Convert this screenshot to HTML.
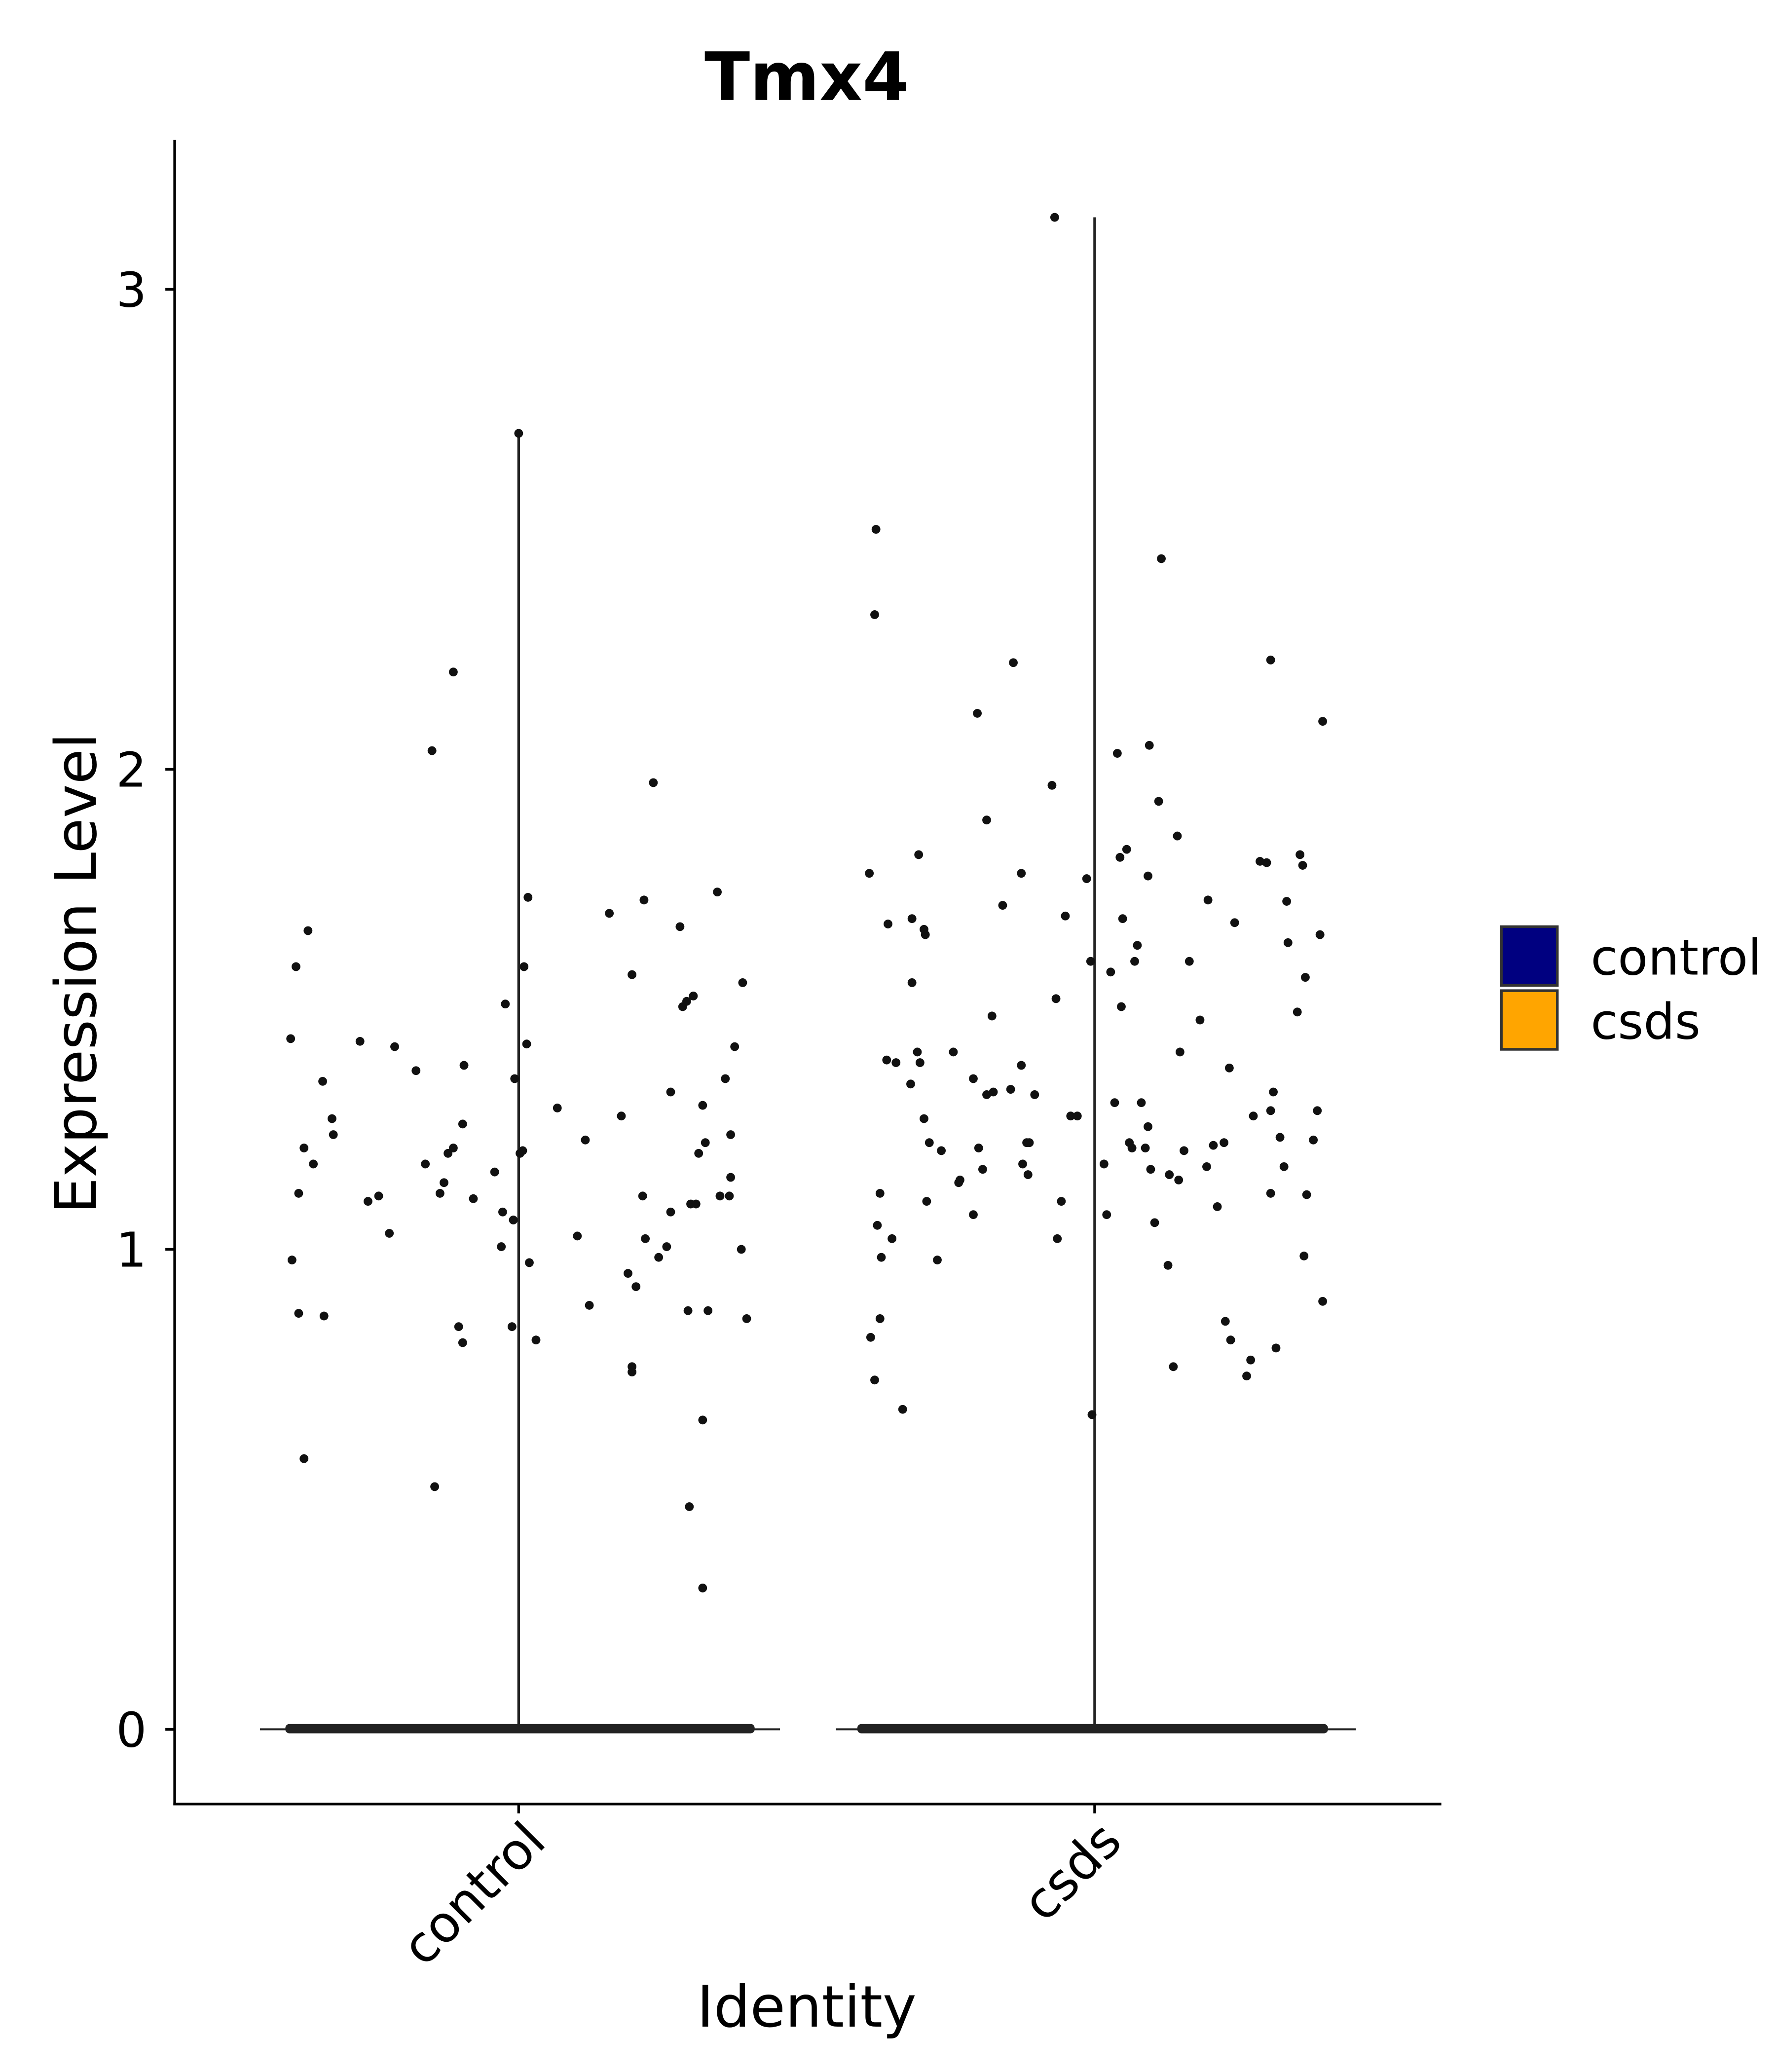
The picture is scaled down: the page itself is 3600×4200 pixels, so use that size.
<!DOCTYPE html>
<html><head><meta charset="utf-8">
<style>html,body{margin:0;padding:0;background:#fff;}svg{display:block;}</style>
</head><body>
<svg xmlns="http://www.w3.org/2000/svg" width="3600" height="4200" viewBox="0 0 1332 1554" font-family="'DejaVu Sans','Liberation Sans',sans-serif">
<rect width="1332" height="1554" fill="#fff"/>
<text x="605" y="75" text-anchor="middle" font-size="50" font-weight="bold">Tmx4</text>
<line x1="131" y1="105" x2="131" y2="1354" stroke="#000" stroke-width="2"/>
<line x1="130" y1="1353" x2="1081" y2="1353" stroke="#000" stroke-width="2"/>
<g stroke="#000" stroke-width="2">
<line x1="124" y1="217" x2="131" y2="217"/><line x1="124" y1="577" x2="131" y2="577"/>
<line x1="124" y1="937" x2="131" y2="937"/><line x1="124" y1="1297" x2="131" y2="1297"/>
<line x1="389" y1="1353" x2="389" y2="1360"/><line x1="821" y1="1353" x2="821" y2="1360"/>
</g>
<g font-size="36" text-anchor="end" fill="#000">
<text x="110" y="230">3</text><text x="110" y="590">2</text><text x="110" y="950">1</text><text x="110" y="1310">0</text>
</g>
<text transform="translate(411,1383) rotate(-45)" text-anchor="end" font-size="38">control</text>
<text transform="translate(843,1383) rotate(-45)" text-anchor="end" font-size="38">csds</text>
<text x="605" y="1520" text-anchor="middle" font-size="43">Identity</text>
<text transform="translate(72,730) rotate(-90)" text-anchor="middle" font-size="43">Expression Level</text>
<line x1="389" y1="325" x2="389" y2="1297" stroke="#222" stroke-width="2"/>
<line x1="821" y1="163" x2="821" y2="1297" stroke="#222" stroke-width="2"/>
<line x1="195" y1="1297" x2="585" y2="1297" stroke="#222" stroke-width="1.5"/>
<line x1="627" y1="1297" x2="1017" y2="1297" stroke="#222" stroke-width="1.5"/>
<rect x="214" y="1293" width="352" height="7" fill="#222" rx="3"/>
<rect x="643" y="1293" width="353" height="7" fill="#222" rx="3"/>
<g fill="#111">
<circle cx="389" cy="325" r="3.3"/><circle cx="791" cy="163" r="3.3"/>
<circle cx="218" cy="779" r="3.3"/><circle cx="222" cy="725" r="3.3"/><circle cx="231" cy="698" r="3.3"/><circle cx="224" cy="895" r="3.3"/><circle cx="228" cy="861" r="3.3"/><circle cx="235" cy="873" r="3.3"/><circle cx="219" cy="945" r="3.3"/><circle cx="224" cy="985" r="3.3"/><circle cx="243" cy="987" r="3.3"/><circle cx="242" cy="811" r="3.3"/><circle cx="249" cy="839" r="3.3"/><circle cx="250" cy="851" r="3.3"/><circle cx="228" cy="1094" r="3.3"/><circle cx="270" cy="781" r="3.3"/><circle cx="276" cy="901" r="3.3"/><circle cx="284" cy="897" r="3.3"/><circle cx="292" cy="925" r="3.3"/><circle cx="296" cy="785" r="3.3"/><circle cx="312" cy="803" r="3.3"/><circle cx="319" cy="873" r="3.3"/><circle cx="324" cy="563" r="3.3"/><circle cx="340" cy="504" r="3.3"/><circle cx="326" cy="1115" r="3.3"/><circle cx="330" cy="895" r="3.3"/><circle cx="333" cy="887" r="3.3"/><circle cx="336" cy="865" r="3.3"/><circle cx="340" cy="861" r="3.3"/><circle cx="347" cy="843" r="3.3"/><circle cx="348" cy="799" r="3.3"/><circle cx="344" cy="995" r="3.3"/><circle cx="347" cy="1007" r="3.3"/><circle cx="355" cy="899" r="3.3"/><circle cx="371" cy="879" r="3.3"/><circle cx="377" cy="909" r="3.3"/><circle cx="379" cy="753" r="3.3"/><circle cx="376" cy="935" r="3.3"/><circle cx="385" cy="915" r="3.3"/><circle cx="384" cy="995" r="3.3"/><circle cx="386" cy="809" r="3.3"/><circle cx="390" cy="865" r="3.3"/><circle cx="392" cy="863" r="3.3"/><circle cx="393" cy="725" r="3.3"/><circle cx="396" cy="673" r="3.3"/><circle cx="395" cy="783" r="3.3"/><circle cx="397" cy="947" r="3.3"/><circle cx="402" cy="1005" r="3.3"/><circle cx="418" cy="831" r="3.3"/><circle cx="433" cy="927" r="3.3"/><circle cx="439" cy="855" r="3.3"/><circle cx="442" cy="979" r="3.3"/><circle cx="457" cy="685" r="3.3"/><circle cx="466" cy="837" r="3.3"/><circle cx="471" cy="955" r="3.3"/><circle cx="474" cy="731" r="3.3"/><circle cx="474" cy="1025" r="3.3"/><circle cx="474" cy="1029" r="3.3"/><circle cx="477" cy="965" r="3.3"/><circle cx="483" cy="675" r="3.3"/><circle cx="482" cy="897" r="3.3"/><circle cx="484" cy="929" r="3.3"/><circle cx="490" cy="587" r="3.3"/><circle cx="494" cy="943" r="3.3"/><circle cx="500" cy="935" r="3.3"/><circle cx="503" cy="819" r="3.3"/><circle cx="503" cy="909" r="3.3"/><circle cx="510" cy="695" r="3.3"/><circle cx="512" cy="755" r="3.3"/><circle cx="515" cy="751" r="3.3"/><circle cx="520" cy="747" r="3.3"/><circle cx="518" cy="903" r="3.3"/><circle cx="516" cy="983" r="3.3"/><circle cx="522" cy="903" r="3.3"/><circle cx="524" cy="865" r="3.3"/><circle cx="527" cy="829" r="3.3"/><circle cx="529" cy="857" r="3.3"/><circle cx="531" cy="983" r="3.3"/><circle cx="527" cy="1065" r="3.3"/><circle cx="517" cy="1130" r="3.3"/><circle cx="527" cy="1191" r="3.3"/><circle cx="538" cy="669" r="3.3"/><circle cx="540" cy="897" r="3.3"/><circle cx="544" cy="809" r="3.3"/><circle cx="547" cy="897" r="3.3"/><circle cx="548" cy="851" r="3.3"/><circle cx="551" cy="785" r="3.3"/><circle cx="548" cy="883" r="3.3"/><circle cx="556" cy="937" r="3.3"/><circle cx="557" cy="737" r="3.3"/><circle cx="560" cy="989" r="3.3"/>
<circle cx="652" cy="655" r="3.3"/><circle cx="657" cy="397" r="3.3"/><circle cx="656" cy="461" r="3.3"/><circle cx="653" cy="1003" r="3.3"/><circle cx="656" cy="1035" r="3.3"/><circle cx="658" cy="919" r="3.3"/><circle cx="660" cy="989" r="3.3"/><circle cx="661" cy="943" r="3.3"/><circle cx="660" cy="895" r="3.3"/><circle cx="665" cy="795" r="3.3"/><circle cx="666" cy="693" r="3.3"/><circle cx="669" cy="929" r="3.3"/><circle cx="672" cy="797" r="3.3"/><circle cx="677" cy="1057" r="3.3"/><circle cx="683" cy="813" r="3.3"/><circle cx="684" cy="737" r="3.3"/><circle cx="684" cy="689" r="3.3"/><circle cx="689" cy="641" r="3.3"/><circle cx="688" cy="789" r="3.3"/><circle cx="690" cy="797" r="3.3"/><circle cx="693" cy="697" r="3.3"/><circle cx="694" cy="701" r="3.3"/><circle cx="693" cy="839" r="3.3"/><circle cx="695" cy="901" r="3.3"/><circle cx="697" cy="857" r="3.3"/><circle cx="703" cy="945" r="3.3"/><circle cx="706" cy="863" r="3.3"/><circle cx="715" cy="789" r="3.3"/><circle cx="719" cy="887" r="3.3"/><circle cx="720" cy="885" r="3.3"/><circle cx="730" cy="911" r="3.3"/><circle cx="730" cy="809" r="3.3"/><circle cx="733" cy="535" r="3.3"/><circle cx="734" cy="861" r="3.3"/><circle cx="737" cy="877" r="3.3"/><circle cx="740" cy="615" r="3.3"/><circle cx="740" cy="821" r="3.3"/><circle cx="744" cy="762" r="3.3"/><circle cx="745" cy="819" r="3.3"/><circle cx="752" cy="679" r="3.3"/><circle cx="758" cy="817" r="3.3"/><circle cx="760" cy="497" r="3.3"/><circle cx="766" cy="655" r="3.3"/><circle cx="766" cy="799" r="3.3"/><circle cx="767" cy="873" r="3.3"/><circle cx="770" cy="857" r="3.3"/><circle cx="771" cy="881" r="3.3"/><circle cx="772" cy="857" r="3.3"/><circle cx="776" cy="821" r="3.3"/><circle cx="789" cy="589" r="3.3"/><circle cx="792" cy="749" r="3.3"/><circle cx="793" cy="929" r="3.3"/><circle cx="796" cy="901" r="3.3"/><circle cx="799" cy="687" r="3.3"/><circle cx="803" cy="837" r="3.3"/><circle cx="808" cy="837" r="3.3"/><circle cx="815" cy="659" r="3.3"/><circle cx="818" cy="721" r="3.3"/><circle cx="819" cy="1061" r="3.3"/><circle cx="828" cy="873" r="3.3"/><circle cx="830" cy="911" r="3.3"/><circle cx="833" cy="729" r="3.3"/><circle cx="836" cy="827" r="3.3"/><circle cx="838" cy="565" r="3.3"/><circle cx="840" cy="643" r="3.3"/><circle cx="842" cy="689" r="3.3"/><circle cx="841" cy="755" r="3.3"/><circle cx="845" cy="637" r="3.3"/><circle cx="847" cy="857" r="3.3"/><circle cx="849" cy="861" r="3.3"/><circle cx="851" cy="721" r="3.3"/><circle cx="853" cy="709" r="3.3"/><circle cx="856" cy="827" r="3.3"/><circle cx="859" cy="861" r="3.3"/><circle cx="861" cy="845" r="3.3"/><circle cx="861" cy="657" r="3.3"/><circle cx="862" cy="559" r="3.3"/><circle cx="863" cy="877" r="3.3"/><circle cx="866" cy="917" r="3.3"/><circle cx="869" cy="601" r="3.3"/><circle cx="871" cy="419" r="3.3"/><circle cx="877" cy="881" r="3.3"/><circle cx="876" cy="949" r="3.3"/><circle cx="880" cy="1025" r="3.3"/><circle cx="884" cy="885" r="3.3"/><circle cx="883" cy="627" r="3.3"/><circle cx="885" cy="789" r="3.3"/><circle cx="888" cy="863" r="3.3"/><circle cx="892" cy="721" r="3.3"/><circle cx="900" cy="765" r="3.3"/><circle cx="905" cy="875" r="3.3"/><circle cx="906" cy="675" r="3.3"/><circle cx="910" cy="859" r="3.3"/><circle cx="913" cy="905" r="3.3"/><circle cx="918" cy="857" r="3.3"/><circle cx="919" cy="991" r="3.3"/><circle cx="922" cy="801" r="3.3"/><circle cx="923" cy="1005" r="3.3"/><circle cx="926" cy="692" r="3.3"/><circle cx="935" cy="1032" r="3.3"/><circle cx="938" cy="1020" r="3.3"/><circle cx="940" cy="837" r="3.3"/><circle cx="945" cy="646" r="3.3"/><circle cx="950" cy="647" r="3.3"/><circle cx="953" cy="833" r="3.3"/><circle cx="953" cy="895" r="3.3"/><circle cx="953" cy="495" r="3.3"/><circle cx="955" cy="819" r="3.3"/><circle cx="957" cy="1011" r="3.3"/><circle cx="960" cy="853" r="3.3"/><circle cx="963" cy="875" r="3.3"/><circle cx="965" cy="676" r="3.3"/><circle cx="966" cy="707" r="3.3"/><circle cx="973" cy="759" r="3.3"/><circle cx="975" cy="641" r="3.3"/><circle cx="977" cy="649" r="3.3"/><circle cx="978" cy="942" r="3.3"/><circle cx="979" cy="733" r="3.3"/><circle cx="980" cy="896" r="3.3"/><circle cx="985" cy="855" r="3.3"/><circle cx="988" cy="833" r="3.3"/><circle cx="990" cy="701" r="3.3"/><circle cx="992" cy="976" r="3.3"/><circle cx="992" cy="541" r="3.3"/>
</g>
<rect x="1126" y="695" width="42" height="44" fill="#000080" stroke="#333" stroke-width="2"/>
<rect x="1126" y="743" width="42" height="44" fill="#FFA500" stroke="#333" stroke-width="2"/>
<text x="1193" y="731" font-size="37">control</text>
<text x="1193" y="779" font-size="37">csds</text>
</svg>
</body></html>
